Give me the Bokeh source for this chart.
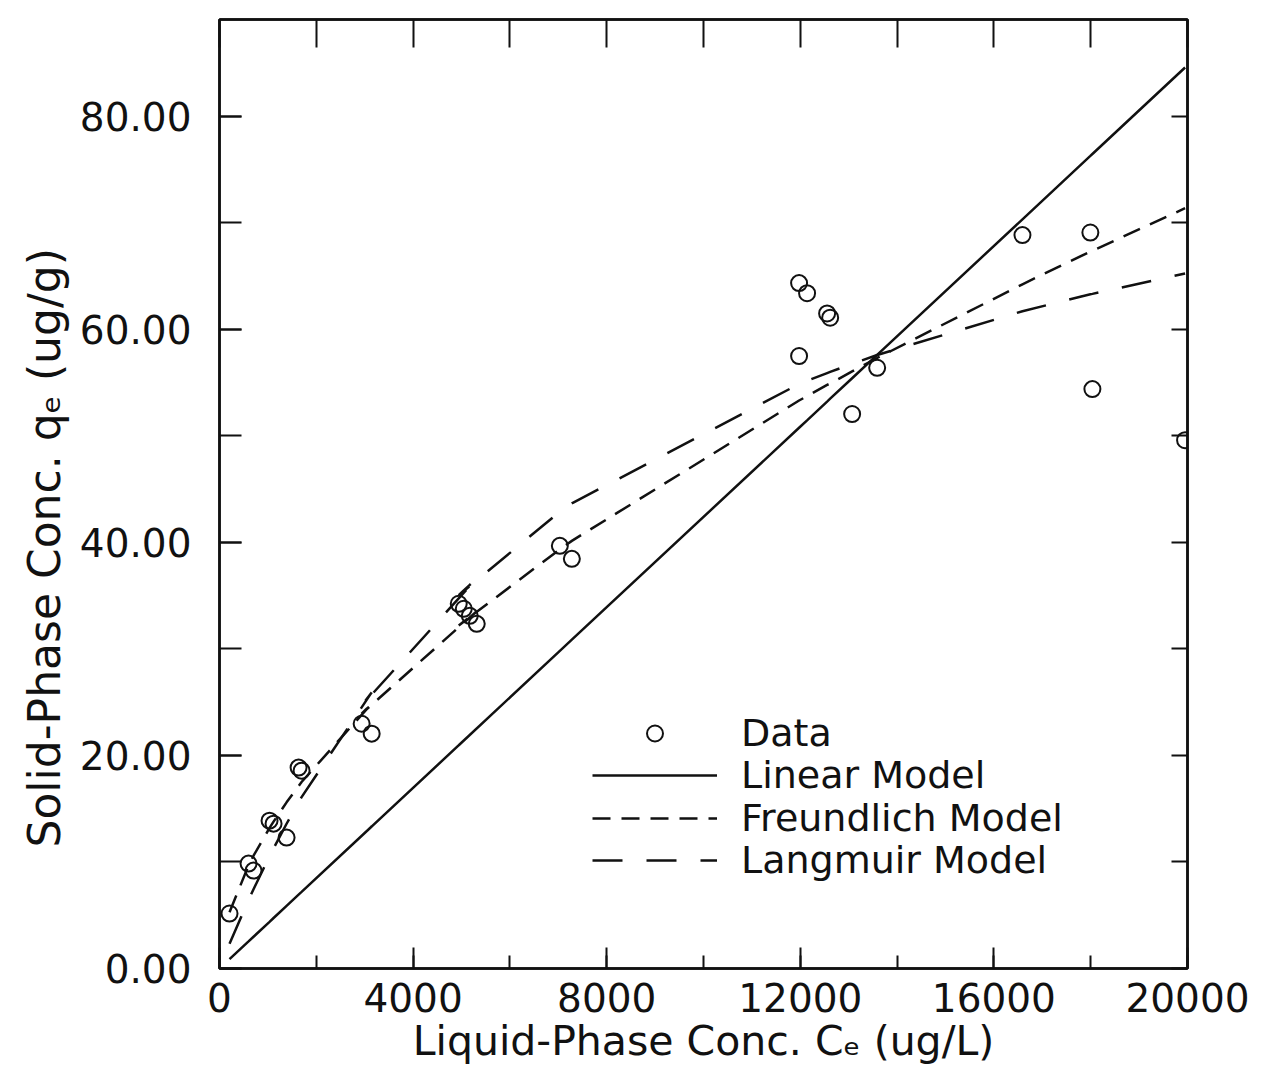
from bokeh.plotting import figure
from bokeh.models import (Range1d, LinearAxis, SingleIntervalTicker, FixedTicker,
                          NumeralTickFormatter, Legend, LegendItem, Title)
from bokeh.embed import file_html
from bokeh.resources import INLINE

# Measured isotherm points: liquid-phase conc. Ce (ug/L), solid-phase conc. qe (ug/g)
data_ce = [207, 600, 703, 1034, 1117, 1386, 1634, 1696, 3144, 2937,
           5315, 5171, 5047, 4943, 7032, 7280, 11975, 11975, 12140, 12554,
           12617, 13071, 13588, 16590, 17993, 18035, 19950]
data_qe = [5.16, 9.85, 9.19, 13.88, 13.60, 12.29, 18.86, 18.57, 22.05, 22.98,
           32.36, 33.11, 33.77, 34.24, 39.68, 38.46, 64.35, 57.50, 63.40, 61.50,
           61.10, 52.06, 56.40, 68.86, 69.10, 54.40, 49.60]

# Fitted model predictions at the same Ce values (same order as the data)
linear_qe = [0.88, 2.54, 2.98, 4.38, 4.74, 5.88, 6.93, 7.19, 13.33, 12.45,
             22.54, 21.93, 21.40, 20.96, 29.82, 30.87, 50.77, 50.77, 51.47, 53.23,
             53.50, 55.42, 57.61, 70.34, 76.29, 76.47, 84.59]
freundlich_qe = [5.28, 9.68, 10.59, 13.20, 13.79, 15.60, 17.13, 17.51, 24.87, 23.92,
                 33.54, 33.03, 32.57, 32.21, 39.36, 40.15, 53.33, 53.33, 53.73, 54.79,
                 54.92, 56.06, 57.32, 64.24, 67.32, 67.39, 71.38]
langmuir_qe = [2.32, 6.43, 7.44, 10.54, 11.28, 13.59, 15.60, 16.09, 25.92, 24.67,
               36.62, 36.02, 35.50, 35.05, 42.89, 43.67, 54.88, 54.88, 55.18, 55.90,
               56.01, 56.77, 57.60, 61.71, 63.30, 63.34, 65.25]

legend_labels = ["Data", "Linear Model", "Freundlich Model", "Langmuir Model"]
x_title = "Liquid-Phase Conc. Cₑ (ug/L)"
y_title = "Solid-Phase Conc. qₑ (ug/g)"

# tick marks on the unlabelled top and right frame edges
top_ticks = list(range(0, 20001, 2000))
right_ticks = list(range(0, 81, 10))

FONT = "DejaVu Sans"
INK = "#111111"

p = figure(width=1268, height=1079, output_backend="svg", toolbar_location=None,
           x_range=Range1d(0, 20000), y_range=Range1d(0, 89.1),
           x_axis_type=None, y_axis_type=None,
           min_border_left=219, min_border_right=81,
           min_border_top=19, min_border_bottom=111,
           background_fill_color="white", border_fill_color="white")
p.outline_line_color = INK
p.outline_line_width = 2.5


def style_axis(ax, tick_in, minor_in=0):
    ax.axis_line_color = INK
    ax.axis_line_width = 2.5
    ax.major_tick_line_color = INK
    ax.major_tick_line_width = 2
    ax.major_tick_in = tick_in
    ax.major_tick_out = 0
    ax.minor_tick_line_color = INK if minor_in else None
    ax.minor_tick_line_width = 2
    ax.minor_tick_in = minor_in
    ax.minor_tick_out = 0
    ax.major_label_text_font = FONT
    ax.major_label_text_font_size = "39px"
    ax.major_label_text_color = INK
    ax.axis_label_text_font = FONT
    ax.axis_label_text_font_size = "41px"
    ax.axis_label_text_font_style = "normal"
    ax.axis_label_text_color = INK


bottom = LinearAxis(ticker=SingleIntervalTicker(interval=4000, num_minor_ticks=2),
                    axis_label=x_title)
style_axis(bottom, 21, 13)
bottom.major_label_standoff = 14
bottom.axis_label_standoff = 2
p.add_layout(bottom, "below")

left = LinearAxis(ticker=SingleIntervalTicker(interval=20, num_minor_ticks=2),
                  formatter=NumeralTickFormatter(format="0.00"))
style_axis(left, 22, 22)
left.major_label_standoff = 28
p.add_layout(left, "left")

# vertical axis title, set in its own panel outside the tick labels so it can sit a little low
ylab = Title(text=y_title, align="left", offset=121, standoff=14,
             text_font=FONT, text_font_size="44px", text_font_style="normal",
             text_color=INK)
p.add_layout(ylab, "left")

top = LinearAxis(ticker=FixedTicker(ticks=[], minor_ticks=top_ticks))
style_axis(top, 0, 28)
p.add_layout(top, "above")

right = LinearAxis(ticker=FixedTicker(ticks=[], minor_ticks=right_ticks))
style_axis(right, 0, 16)
p.add_layout(right, "right")

r_lin = p.line(data_ce, linear_qe, line_color=INK, line_width=2.5)
r_fr = p.line(data_ce, freundlich_qe, line_color=INK, line_width=2.5, line_dash="18 11")
r_la = p.line(data_ce, langmuir_qe, line_color=INK, line_width=2.5, line_dash="30 24")
r_data = p.scatter(data_ce, data_qe, marker="circle", size=16, fill_color=None,
                   line_color=INK, line_width=2)

# one single-row legend per entry, rows stacked 42 px apart
row_renderers = [r_data, r_lin, r_fr, r_la]
row_offsets = [213, 171, 128, 86]
for label, rend, y_off in zip(legend_labels, row_renderers, row_offsets):
    lg = Legend(items=[LegendItem(label=label, renderers=[rend])],
                location=(373, y_off))
    lg.label_text_font = FONT
    lg.label_text_font_size = "38px"
    lg.label_text_color = INK
    lg.glyph_width = 125
    lg.glyph_height = 40
    lg.label_standoff = 24
    lg.padding = 0
    lg.margin = 0
    lg.border_line_color = None
    lg.background_fill_alpha = 0
    p.add_layout(lg)

open("out.html", "w").write(file_html(p, INLINE))
